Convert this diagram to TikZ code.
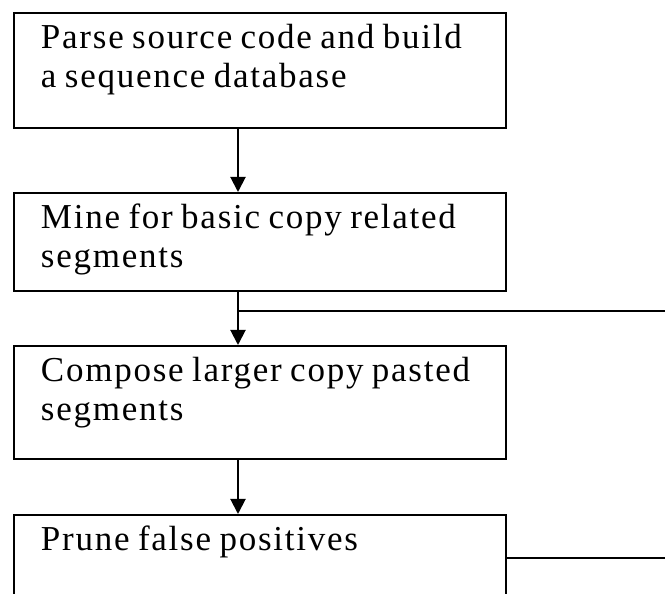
\documentclass[tikz,border=0pt]{standalone}
\usepackage{fontspec}
\setmainfont{Liberation Serif}[LetterSpace=5,WordSpace=0.8]
\usetikzlibrary{arrows.meta,calc}
\begin{document}
\begin{tikzpicture}[x=1pt,y=1pt,
  line width=2pt,
  stepbox/.style={draw, rectangle, minimum width=492pt, anchor=north west, inner sep=0pt},
  steptext/.style={anchor=north west, inner sep=0pt, align=left,
    font=\fontsize{35}{39}\selectfont},
  flow/.style={-{Triangle[width=15pt,length=15pt]}}]
  \useasboundingbox (0,0) rectangle (665,594);
  \clip (0,0) rectangle (665,594);

  % process boxes
  \node[stepbox, minimum height=115pt] (b1) at (13,582) {};
  \node[stepbox, minimum height=98pt]  (b2) at (13,402) {};
  \node[stepbox, minimum height=113pt] (b3) at (13,249) {};
  \node[stepbox, minimum height=130pt] (b4) at (13,80)  {};

  % box labels
  \node[steptext] (t1) at ($(b1.north west)+(27,-11)$) {Parse source code and build\\a sequence database};
  \node[steptext] (t2) at ($(b2.north west)+(27,-11)$) {Mine for basic copy related\\segments};
  \node[steptext] (t3) at ($(b3.north west)+(27,-11)$) {Compose larger copy pasted\\segments};
  \node[steptext] (t4) at ($(b4.north west)+(27,-11)$) {Prune false positives};

  % connectors
  \coordinate (ax) at (238,0);
  \coordinate (j)  at (238,283);
  \coordinate (e1) at (665,283);
  \coordinate (e2) at (665,36);

  \draw[flow] (b1.south -| ax) -- (b2.north -| ax);
  \draw[flow] (b2.south -| ax) -- (b3.north -| ax);
  \draw[flow] (b3.south -| ax) -- (b4.north -| ax);
  \draw (j) -- (e1);
  \draw (e2 -| b4.east) -- (e2);
\end{tikzpicture}
\end{document}
